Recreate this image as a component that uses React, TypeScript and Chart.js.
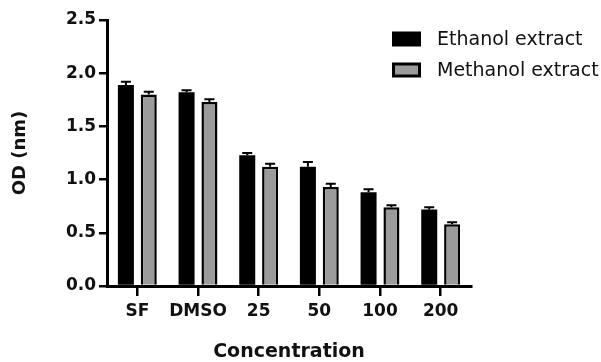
import React, { useEffect, useRef } from "react";
import { Chart, registerables } from "chart.js";

Chart.register(...registerables);

const categories = ["SF", "DMSO", "25", "50", "100", "200"];
const ethanolValues = [1.89, 1.82, 1.23, 1.12, 0.88, 0.72];
const ethanolErrors = [0.03, 0.02, 0.02, 0.045, 0.03, 0.02];
const methanolValues = [1.80, 1.73, 1.12, 0.93, 0.74, 0.58];
const methanolErrors = [0.025, 0.025, 0.03, 0.03, 0.02, 0.02];
const seriesLabels = ["Ethanol extract", "Methanol extract"];
const yTicksMin = 0;
const yTicksMax = 2.5;
const yTickStep = 0.5;

const errorsBySeries = [ethanolErrors, methanolErrors];

const errorBarPlugin = {
  id: "errorBars",
  afterDatasetsDraw(chart: any) {
    const ctx = chart.ctx;
    const yScale = chart.scales.y;
    ctx.save();
    ctx.strokeStyle = "#000";
    ctx.lineWidth = 2;
    chart.data.datasets.forEach((ds: any, i: number) => {
      const meta = chart.getDatasetMeta(i);
      meta.data.forEach((bar: any, j: number) => {
        const v = ds.data[j];
        const e = errorsBySeries[i][j];
        const top = yScale.getPixelForValue(v + e);
        ctx.beginPath();
        ctx.moveTo(bar.x, bar.y);
        ctx.lineTo(bar.x, top);
        ctx.moveTo(bar.x - 5, top);
        ctx.lineTo(bar.x + 5, top);
        ctx.stroke();
      });
    });
    ctx.restore();
  },
};

const legendPlugin = {
  id: "customLegend",
  afterDraw(chart: any) {
    const ctx = chart.ctx;
    ctx.save();
    const rows = [39, 70];
    chart.data.datasets.forEach((ds: any, i: number) => {
      const cy = rows[i];
      const x = 392, w = 29, h = 15;
      ctx.fillStyle = "#000";
      ctx.fillRect(x, cy - h / 2, w, h);
      if (ds.backgroundColor !== "#000") {
        ctx.fillStyle = ds.backgroundColor;
        ctx.fillRect(x + 3, cy - h / 2 + 3, w - 6, h - 6);
      }
      ctx.fillStyle = "#111";
      ctx.font = "19px 'DejaVu Sans'";
      ctx.textBaseline = "middle";
      ctx.textAlign = "left";
      ctx.fillText(ds.label, 437, cy + 1);
    });
    ctx.restore();
  },
};

export default function App() {
  const ref = useRef<HTMLCanvasElement>(null);
  useEffect(() => {
    const chart = new Chart(ref.current!, {
      type: "bar",
      data: {
        labels: categories,
        datasets: [
          {
            label: seriesLabels[0],
            data: ethanolValues,
            backgroundColor: "#000",
            borderColor: "#000",
            borderWidth: 0,
            categoryPercentage: 0.754,
            barPercentage: 0.7,
          },
          {
            label: seriesLabels[1],
            data: methanolValues,
            backgroundColor: "#9b9b9b",
            borderColor: "#000",
            borderWidth: 2.5,
            categoryPercentage: 0.754,
            barPercentage: 0.7,
          },
        ],
      },
      options: {
        responsive: false,
        animation: false,
        devicePixelRatio: 1,
        layout: { padding: { left: 0, top: 20, right: 130, bottom: 0 } },
        plugins: { legend: { display: false }, tooltip: { enabled: false } },
        scales: {
          x: {
            offset: true,
            afterFit(scale: any) {
              scale.height = 76;
            },
            grid: {
              display: true,
              offset: false,
              drawOnChartArea: false,
              drawTicks: true,
              tickLength: 10,
              color: "#000",
              lineWidth: 2.5,
            },
            border: { display: true, color: "#000", width: 3 },
            ticks: {
              color: "#111",
              padding: 5,
              autoSkip: false,
              font: { family: "'DejaVu Sans'", size: 17, weight: "bold" },
              maxRotation: 0,
            },
            title: {
              display: true,
              text: "Concentration",
              color: "#111",
              padding: { top: 0, bottom: 0 },
              font: { family: "'DejaVu Sans'", size: 19, weight: "bold", lineHeight: 1 },
            },
          },
          y: {
            min: yTicksMin,
            max: yTicksMax,
            afterFit(scale: any) {
              scale.width = 107;
            },
            grid: {
              display: true,
              drawOnChartArea: false,
              drawTicks: true,
              tickLength: 8,
              color: "#000",
              lineWidth: 2.5,
            },
            border: { display: true, color: "#000", width: 3 },
            ticks: {
              stepSize: yTickStep,
              color: "#111",
              padding: 3,
              font: { family: "'DejaVu Sans'", size: 17, weight: "bold" },
              callback: (v: any) => Number(v).toFixed(1),
            },
            title: {
              display: true,
              text: "OD (nm)",
              color: "#111",
              padding: { top: 11, bottom: 0 },
              font: { family: "'DejaVu Sans'", size: 18, weight: "bold", lineHeight: 1 },
            },
          },
        },
      },
      plugins: [errorBarPlugin, legendPlugin],
    });
    return () => chart.destroy();
  }, []);
  return (
    <div style={{ position: "absolute", left: 0, top: 0, width: 601, height: 362, background: "#fff" }}>
      <canvas ref={ref} width={601} height={362} />
    </div>
  );
}
